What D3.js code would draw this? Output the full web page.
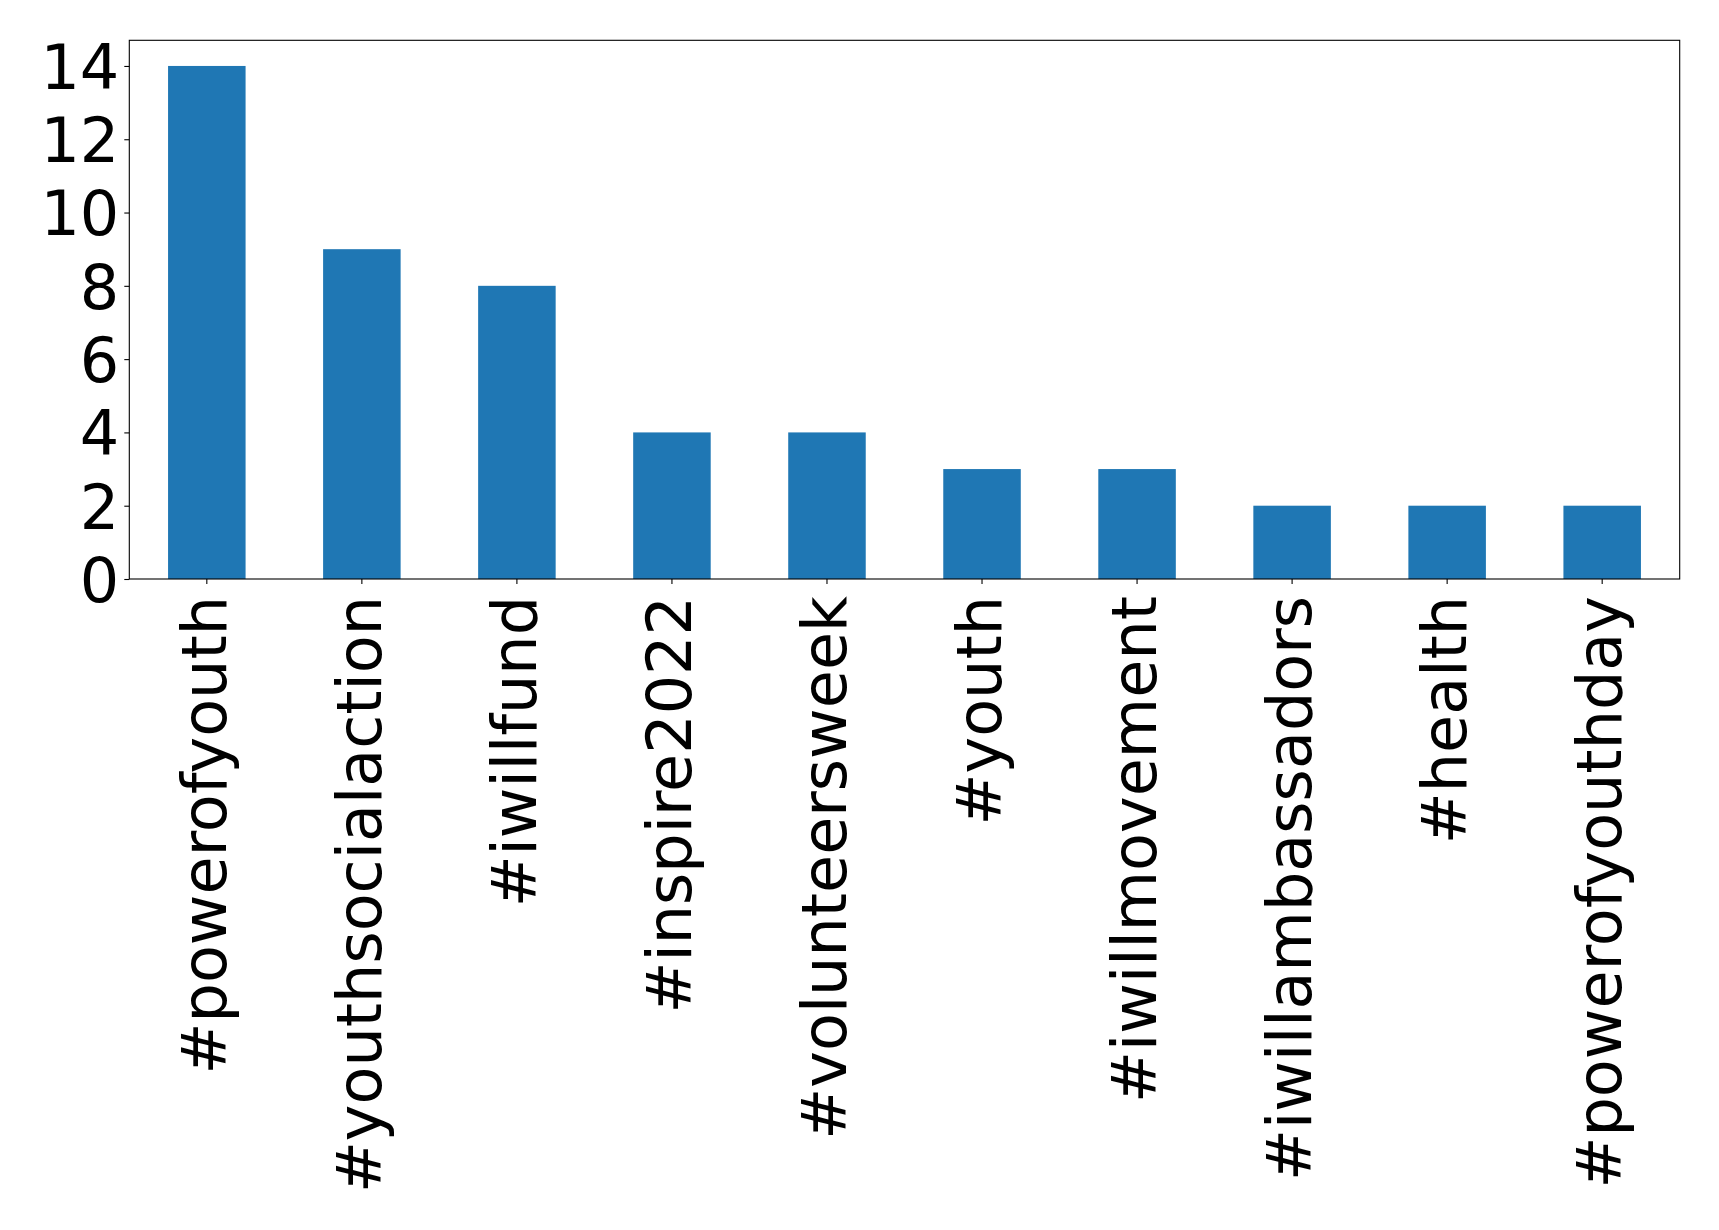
<!DOCTYPE html>
<html>
<head>
<meta charset="utf-8">
<script src="https://cdn.jsdelivr.net/npm/d3@7"></script>
<style>
  html, body { margin: 0; padding: 0; background: #fff; }
  svg { display: block; }
  text { font-family: "DejaVu Sans", sans-serif; fill: #000; }
</style>
</head>
<body>
<script>
const categories = ["#powerofyouth", "#youthsocialaction", "#iwillfund", "#inspire2022", "#volunteersweek", "#youth", "#iwillmovement", "#iwillambassadors", "#health", "#powerofyouthday"];
const values = [14, 9, 8, 4, 4, 3, 3, 2, 2, 2];
const yTicks = [0, 2, 4, 6, 8, 10, 12, 14];

const W = 1719, H = 1230;
const plotLeft = 129.3, plotRight = 1679.7, plotTop = 40.3, plotBottom = 579;
const fontSize = 62;

const svg = d3.select("body").append("svg").attr("width", W).attr("height", H);

const x = d3.scaleBand().domain(categories).range([plotLeft, plotRight]).paddingInner(0.5).paddingOuter(0.25);
const y = d3.scaleLinear().domain([0, 14.7]).range([plotBottom, plotTop]);

svg.append("g").selectAll("rect").data(values).join("rect")
  .attr("x", (d, i) => x(categories[i]))
  .attr("width", x.bandwidth())
  .attr("y", d => y(d))
  .attr("height", d => y(0) - y(d))
  .attr("fill", "#1f77b4");

// Y axis
const yAxis = d3.axisLeft(y).tickValues(yTicks).tickSize(5).tickPadding(5).tickFormat(d3.format("d"));
const gy = svg.append("g").attr("transform", `translate(${plotLeft},0)`).call(yAxis);
gy.select(".domain").remove();
gy.selectAll(".tick line").attr("stroke", "#000").attr("stroke-width", 1.1);
gy.selectAll(".tick text").attr("font-size", fontSize).attr("font-family", "DejaVu Sans").attr("dy", "0.36em").attr("fill", "#000");

// X axis
const xAxis = d3.axisBottom(x).tickSize(5).tickPadding(0);
const gx = svg.append("g").attr("transform", `translate(0,${plotBottom})`).call(xAxis);
gx.select(".domain").remove();
gx.selectAll(".tick line").attr("stroke", "#000").attr("stroke-width", 1.1);
gx.selectAll(".tick text")
  .attr("font-size", fontSize).attr("font-family", "DejaVu Sans").attr("fill", "#000")
  .attr("text-anchor", "end")
  .attr("transform", "translate(0,17) rotate(-90)")
  .attr("x", 0).attr("y", 0).attr("dy", "0.31em");

// Frame
svg.append("rect").attr("x", plotLeft).attr("y", plotTop).attr("width", plotRight - plotLeft).attr("height", plotBottom - plotTop)
  .attr("fill", "none").attr("stroke", "#000").attr("stroke-width", 1.1);
</script>
</body>
</html>
